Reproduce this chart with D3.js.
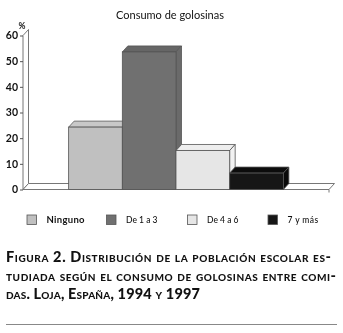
<!DOCTYPE html>
<html><head><meta charset="utf-8">
<script src="https://cdn.jsdelivr.net/npm/d3@7"></script>
<style>
html,body{margin:0;padding:0;background:#fff}
svg{display:block;filter:blur(0.35px)}
text{font-family:Lato,"Open Sans",sans-serif;fill:#111}
</style></head><body>
<svg id="c" width="343" height="333"></svg>
<script>
const categories = ["Ninguno","De 1 a 3","De 4 a 6","7 y más"];
const values = [24.3,53.6,15.2,6.4];
const fills = ["#c0c0c0","#707070","#e6e6e6","#161616"];
const tops = ["#c8c8c8","#666666","#eeeeee","#0c0c0c"];
const sides = ["#a8a8a8","#6a6a6a","#f2f2f2","#0a0a0a"];
const yTicks = [0,10,20,30,40,50,60];
const chartTitle = "Consumo de golosinas";
const unitLabel = "%";
const captionLines = ["Figura 2. Distribución de la población escolar es-","tudiada según el consumo de golosinas entre comi-","das. Loja, España, 1994 y 1997"];
const captionWidths = [325,330,194];
const captionBase = [262,280.5,299];
const legendX = [27,106.5,187.5,268];

const svg = d3.select("#c");
const dx = 5.5, dy = -6;
const x = d3.scaleBand().domain(categories).range([23,329]).paddingInner(0).paddingOuter(0.85);
const y = d3.scaleLinear().domain([0,60]).range([189.5,35.5]);
const edge = "#555";

// walls and floor
const g = svg.append("g");
g.append("path").attr("d",`M${x.range()[0]},${y(0)}V${y(60)}l${dx},${dy}V${y(0)+dy}L${x.range()[0]},${y(0)}Z`)
  .attr("fill","#fff").attr("stroke","#777").attr("stroke-width",1);
g.append("path").attr("d",`M${x.range()[0]},${y(0)}l${dx},${dy}H${x.range()[1]+dx}l${-dx},${-dy}Z`)
  .attr("fill","#fff").attr("stroke","#777").attr("stroke-width",1);
g.append("line").attr("x1",x.range()[1]).attr("x2",x.range()[1]).attr("y1",y(0)).attr("y2",y(0)+3).attr("stroke","#777");

// axis
const axis = d3.axisLeft(y).tickValues(yTicks).tickSize(3).tickPadding(2);
const ax = svg.append("g").attr("transform",`translate(${x.range()[0]},0)`).call(axis);
ax.select(".domain").remove();
ax.selectAll("line").attr("stroke","#555");
ax.selectAll("text").attr("font-size",10.5).attr("font-weight",700).attr("fill","#111");
svg.append("text").attr("x",22).attr("y",29).attr("text-anchor","middle").attr("font-size",8.5).attr("font-weight",700).text(unitLabel);

// bars
const bars = svg.append("g").selectAll("g").data(categories).join("g");
bars.each(function(c,i){
  const s = d3.select(this), x0=x(c), w=x.bandwidth(), t=y(values[i]), b=y(0);
  s.append("path").attr("d",`M${x0},${t}l${dx},${dy}h${w}l${-dx},${-dy}Z`).attr("fill",tops[i]).attr("stroke",edge).attr("stroke-width",.8);
  s.append("path").attr("d",`M${x0+w},${t}l${dx},${dy}V${b+dy}l${-dx},${-dy}Z`).attr("fill",sides[i]).attr("stroke",edge).attr("stroke-width",.8);
  s.append("rect").attr("x",x0).attr("y",t).attr("width",w).attr("height",b-t).attr("fill",fills[i]).attr("stroke",edge).attr("stroke-width",.8);
});

// title
svg.append("text").attr("x",170).attr("y",18.5).attr("text-anchor","middle").attr("font-size",11).text(chartTitle);

// legend
const leg = svg.append("g").selectAll("g").data(categories).join("g").attr("transform",(d,i)=>`translate(${legendX[i]},215)`);
leg.append("rect").attr("width",9.5).attr("height",9.5).attr("fill",(d,i)=>fills[i]).attr("stroke","#555").attr("stroke-width",.8);
leg.append("text").attr("x",19.5).attr("y",8).attr("font-size",(d,i)=>i===0?9.5:8.5).attr("font-weight",(d,i)=>i===0?700:500).attr("letter-spacing",(d,i)=>i===0?0.3:i===3?0.4:0).text(d=>d);

// caption
svg.append("g").selectAll("text").data(captionLines).join("text")
  .attr("x",6).attr("y",(d,i)=>captionBase[i])
  .attr("font-size",14.5).attr("font-weight",900).attr("font-variant","small-caps").attr("fill","#222")
  .attr("textLength",(d,i)=>captionWidths[i]).attr("lengthAdjust","spacing")
  .text(d=>d);

svg.append("line").attr("x1",6).attr("x2",337).attr("y1",324.5).attr("y2",324.5).attr("stroke","#888").attr("stroke-width",1);
</script>
</body></html>
